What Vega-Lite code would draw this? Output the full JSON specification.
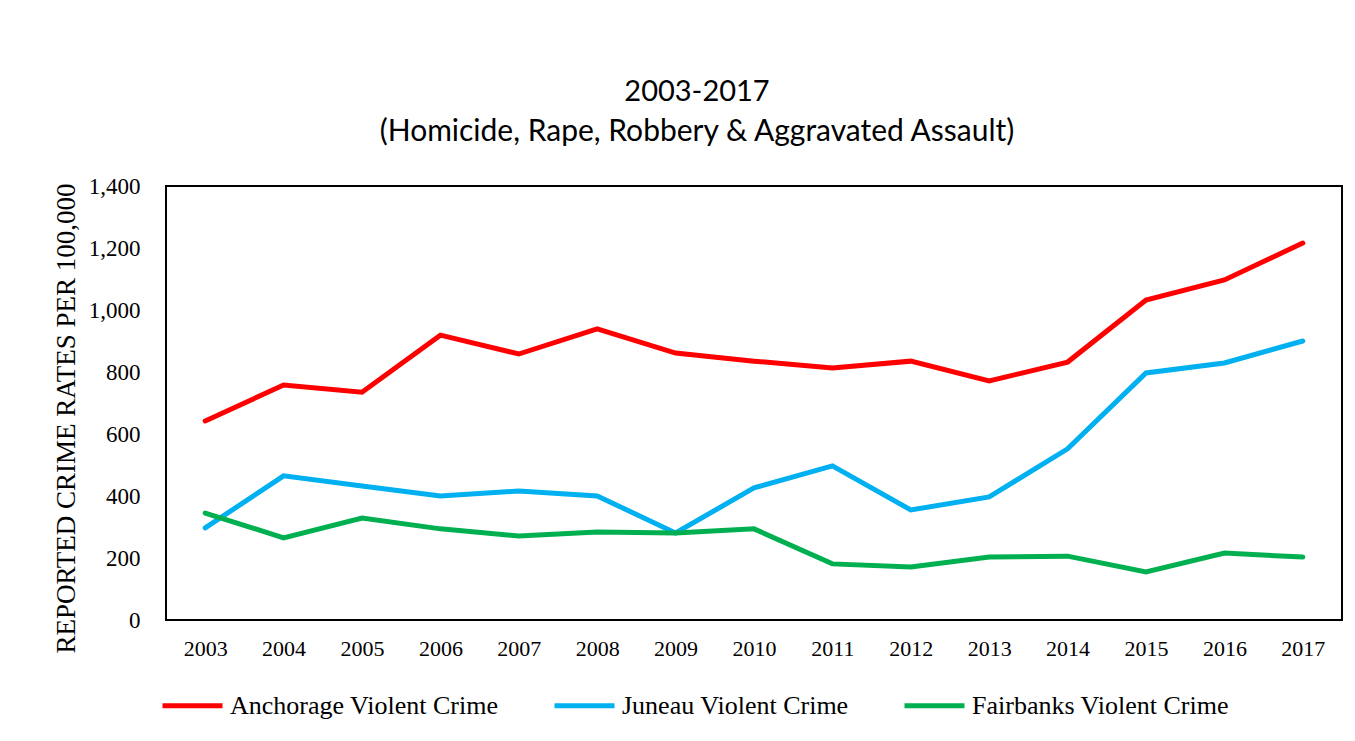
{
  "$schema": "https://vega.github.io/schema/vega-lite/v6.json",
  "width": 1176,
  "height": 434,
  "autosize": {"type": "none"},
  "padding": {"left": 166, "top": 186, "right": 13, "bottom": 121},
  "background": "white",
  "title": {
    "text": "2003-2017",
    "subtitle": "(Homicide, Rape, Robbery & Aggravated Assault)",
    "font": "Lato",
    "fontSize": 29,
    "fontWeight": "normal",
    "color": "black",
    "subtitleFont": "Lato",
    "subtitleFontSize": 30,
    "subtitleColor": "black",
    "subtitlePadding": 10,
    "anchor": "middle",
    "frame": "bounds",
    "offset": 28
  },
  "data": {
    "values": [
      {"year": "2003", "series": "Anchorage Violent Crime", "rate": 642},
      {"year": "2004", "series": "Anchorage Violent Crime", "rate": 758},
      {"year": "2005", "series": "Anchorage Violent Crime", "rate": 735},
      {"year": "2006", "series": "Anchorage Violent Crime", "rate": 919},
      {"year": "2007", "series": "Anchorage Violent Crime", "rate": 858},
      {"year": "2008", "series": "Anchorage Violent Crime", "rate": 939},
      {"year": "2009", "series": "Anchorage Violent Crime", "rate": 861},
      {"year": "2010", "series": "Anchorage Violent Crime", "rate": 835},
      {"year": "2011", "series": "Anchorage Violent Crime", "rate": 813},
      {"year": "2012", "series": "Anchorage Violent Crime", "rate": 835},
      {"year": "2013", "series": "Anchorage Violent Crime", "rate": 771},
      {"year": "2014", "series": "Anchorage Violent Crime", "rate": 832},
      {"year": "2015", "series": "Anchorage Violent Crime", "rate": 1032},
      {"year": "2016", "series": "Anchorage Violent Crime", "rate": 1097},
      {"year": "2017", "series": "Anchorage Violent Crime", "rate": 1216},
      {"year": "2003", "series": "Juneau Violent Crime", "rate": 297},
      {"year": "2004", "series": "Juneau Violent Crime", "rate": 465},
      {"year": "2005", "series": "Juneau Violent Crime", "rate": 432},
      {"year": "2006", "series": "Juneau Violent Crime", "rate": 400},
      {"year": "2007", "series": "Juneau Violent Crime", "rate": 416},
      {"year": "2008", "series": "Juneau Violent Crime", "rate": 400},
      {"year": "2009", "series": "Juneau Violent Crime", "rate": 281},
      {"year": "2010", "series": "Juneau Violent Crime", "rate": 426},
      {"year": "2011", "series": "Juneau Violent Crime", "rate": 497},
      {"year": "2012", "series": "Juneau Violent Crime", "rate": 355},
      {"year": "2013", "series": "Juneau Violent Crime", "rate": 397},
      {"year": "2014", "series": "Juneau Violent Crime", "rate": 552},
      {"year": "2015", "series": "Juneau Violent Crime", "rate": 797},
      {"year": "2016", "series": "Juneau Violent Crime", "rate": 829},
      {"year": "2017", "series": "Juneau Violent Crime", "rate": 900},
      {"year": "2003", "series": "Fairbanks Violent Crime", "rate": 345},
      {"year": "2004", "series": "Fairbanks Violent Crime", "rate": 265},
      {"year": "2005", "series": "Fairbanks Violent Crime", "rate": 329},
      {"year": "2006", "series": "Fairbanks Violent Crime", "rate": 294},
      {"year": "2007", "series": "Fairbanks Violent Crime", "rate": 271},
      {"year": "2008", "series": "Fairbanks Violent Crime", "rate": 284},
      {"year": "2009", "series": "Fairbanks Violent Crime", "rate": 281},
      {"year": "2010", "series": "Fairbanks Violent Crime", "rate": 294},
      {"year": "2011", "series": "Fairbanks Violent Crime", "rate": 181},
      {"year": "2012", "series": "Fairbanks Violent Crime", "rate": 171},
      {"year": "2013", "series": "Fairbanks Violent Crime", "rate": 203},
      {"year": "2014", "series": "Fairbanks Violent Crime", "rate": 206},
      {"year": "2015", "series": "Fairbanks Violent Crime", "rate": 155},
      {"year": "2016", "series": "Fairbanks Violent Crime", "rate": 216},
      {"year": "2017", "series": "Fairbanks Violent Crime", "rate": 203}
    ]
  },
  "mark": {"type": "line", "strokeWidth": 5, "strokeCap": "round", "strokeJoin": "miter"},
  "encoding": {
    "x": {
      "field": "year",
      "type": "ordinal",
      "scale": {"type": "point", "padding": 0.5},
      "axis": {
        "title": null,
        "labelAngle": 0,
        "labelFont": "Liberation Serif",
        "labelFontSize": 22,
        "labelColor": "black",
        "labelPadding": 18,
        "ticks": false,
        "domain": false,
        "grid": false
      }
    },
    "y": {
      "field": "rate",
      "type": "quantitative",
      "scale": {"domain": [0, 1400], "nice": false},
      "axis": {
        "title": "REPORTED CRIME RATES PER 100,000",
        "titleFont": "Liberation Serif",
        "titleFontSize": 27,
        "titleFontWeight": "normal",
        "titleColor": "black",
        "titleX": -100,
        "titleY": 232,
        "titleAlign": "center",
        "titleBaseline": "middle",
        "values": [0, 200, 400, 600, 800, 1000, 1200, 1400],
        "format": ",.0f",
        "labelFont": "Liberation Serif",
        "labelFontSize": 23,
        "labelColor": "black",
        "labelPadding": 26,
        "ticks": false,
        "domain": false,
        "grid": false
      }
    },
    "color": {
      "field": "series",
      "type": "nominal",
      "sort": null,
      "scale": {
        "domain": ["Anchorage Violent Crime", "Juneau Violent Crime", "Fairbanks Violent Crime"],
        "range": ["#FF0000", "#00B0F0", "#00B050"]
      },
      "legend": {
        "title": null,
        "orient": "none",
        "legendX": -6,
        "legendY": 487,
        "direction": "horizontal",
        "columns": 3,
        "symbolType": "stroke",
        "symbolSize": 3600,
        "symbolStrokeWidth": 5,
        "labelFont": "Liberation Serif",
        "labelFontSize": 26,
        "labelColor": "black",
        "labelOffset": 5,
        "labelLimit": 500,
        "columnPadding": 45
      }
    }
  },
  "config": {
    "view": {"stroke": "black", "strokeWidth": 2}
  }
}
